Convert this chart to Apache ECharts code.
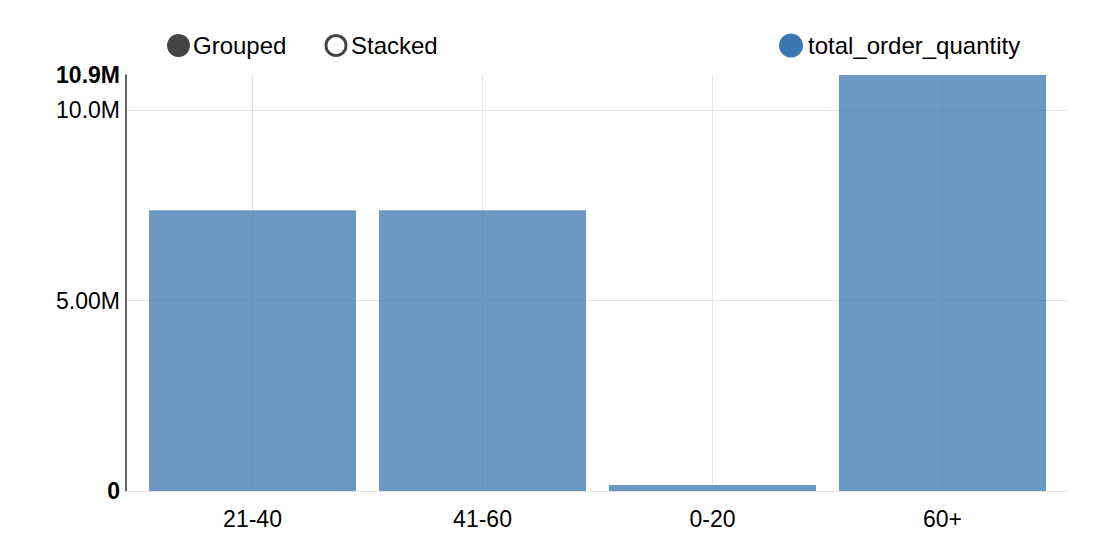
<!DOCTYPE html>
<html>
<head>
<meta charset="utf-8">
<script src="https://cdn.jsdelivr.net/npm/echarts@6/dist/echarts.min.js"></script>
<style>html,body{margin:0;padding:0;background:#fff;}#c{width:1102px;height:546px;}</style>
</head>
<body>
<div id="c"></div>
<script>
const categories = ['21-40', '41-60', '0-20', '60+'];
const seriesName = 'total_order_quantity';
const totalOrderQuantity = [7370000, 7370000, 160000, 10920000];
const controlLabels = ['Grouped', 'Stacked'];

const FONT = 'Liberation Sans, Arial, Helvetica, sans-serif';
const chart = echarts.init(document.getElementById('c'), null, {renderer: 'svg'});
const maxVal = Math.max.apply(null, totalOrderQuantity);

function fmt(v) {
  if (v === 0) return '0';
  return (v / 1e6).toPrecision(3) + 'M';
}

chart.setOption({
  animation: false,
  textStyle: {fontFamily: FONT},
  color: ['#3b75b0'],
  grid: [
    {left: 126, right: 34, top: 75, bottom: 55, containLabel: false},
    {left: 137.5, right: 44.5, top: 75, bottom: 55, containLabel: false}
  ],
  legend: {
    data: [{name: seriesName, itemStyle: {color: '#3a76b2', opacity: 1}}],
    left: 779, top: 33.5, padding: 0,
    icon: 'circle', itemWidth: 24, itemHeight: 24, itemGap: 5,
    textStyle: {fontSize: 24, color: '#000', fontFamily: FONT},
    selectedMode: false
  },
  graphic: [
    {type: 'circle', shape: {cx: 178.5, cy: 45.5, r: 11.5}, style: {fill: '#444'}},
    {type: 'text', x: 193, y: 45, style: {text: controlLabels[0], fontSize: 24, fill: '#000', fontFamily: FONT, verticalAlign: 'middle'}},
    {type: 'circle', shape: {cx: 336, cy: 45.5, r: 10}, style: {fill: '#fff', stroke: '#444', lineWidth: 3}},
    {type: 'text', x: 351, y: 45, style: {text: controlLabels[1], fontSize: 24, fill: '#000', fontFamily: FONT, verticalAlign: 'middle'}}
  ],
  xAxis: [
    {
      gridIndex: 0, type: 'value', min: 0, max: 1,
      axisLine: {show: true, lineStyle: {color: '#e5e5e5', width: 1}},
      axisTick: {show: false}, axisLabel: {show: false}, splitLine: {show: false}
    },
    {
      gridIndex: 1, type: 'category', data: categories,
      axisLine: {show: false}, axisTick: {show: false}, splitLine: {show: false},
      axisLabel: {fontSize: 23, color: '#000', margin: 16, fontFamily: FONT}
    }
  ],
  yAxis: [
    {
      gridIndex: 0, type: 'value', min: 0, max: maxVal, interval: 5000000,
      axisLine: {show: true, lineStyle: {color: '#333', width: 1.5}},
      axisTick: {show: false},
      splitLine: {show: true, lineStyle: {color: ['#e5e5e5', '#e5e5e5', '#e5e5e5', 'rgba(0,0,0,0)'], width: 1}},
      axisLabel: {
        fontSize: 23, color: '#000', margin: 6, fontFamily: FONT,
        showMaxLabel: true, showMinLabel: true,
        formatter: function (v) {
          if (v === 0 || v === maxVal) return '{b|' + fmt(v) + '}';
          return fmt(v);
        },
        rich: {b: {fontWeight: 'bold', fontSize: 23, color: '#000', fontFamily: FONT}}
      }
    },
    {
      gridIndex: 1, type: 'value', min: 0, max: maxVal, show: false,
      splitLine: {show: false}
    }
  ],
  series: [{
    name: seriesName,
    type: 'bar',
    xAxisIndex: 1, yAxisIndex: 1,
    data: totalOrderQuantity,
    barCategoryGap: '10%',
    itemStyle: {color: 'rgba(59,117,176,0.75)'},
    emphasis: {disabled: true},
    markLine: {
      silent: true,
      z: 1,
      symbol: 'none',
      label: {show: false},
      lineStyle: {color: '#e5e5e5', type: 'solid', width: 1},
      data: categories.map(c => ({xAxis: c}))
    }
  }]
});
</script>
</body>
</html>
